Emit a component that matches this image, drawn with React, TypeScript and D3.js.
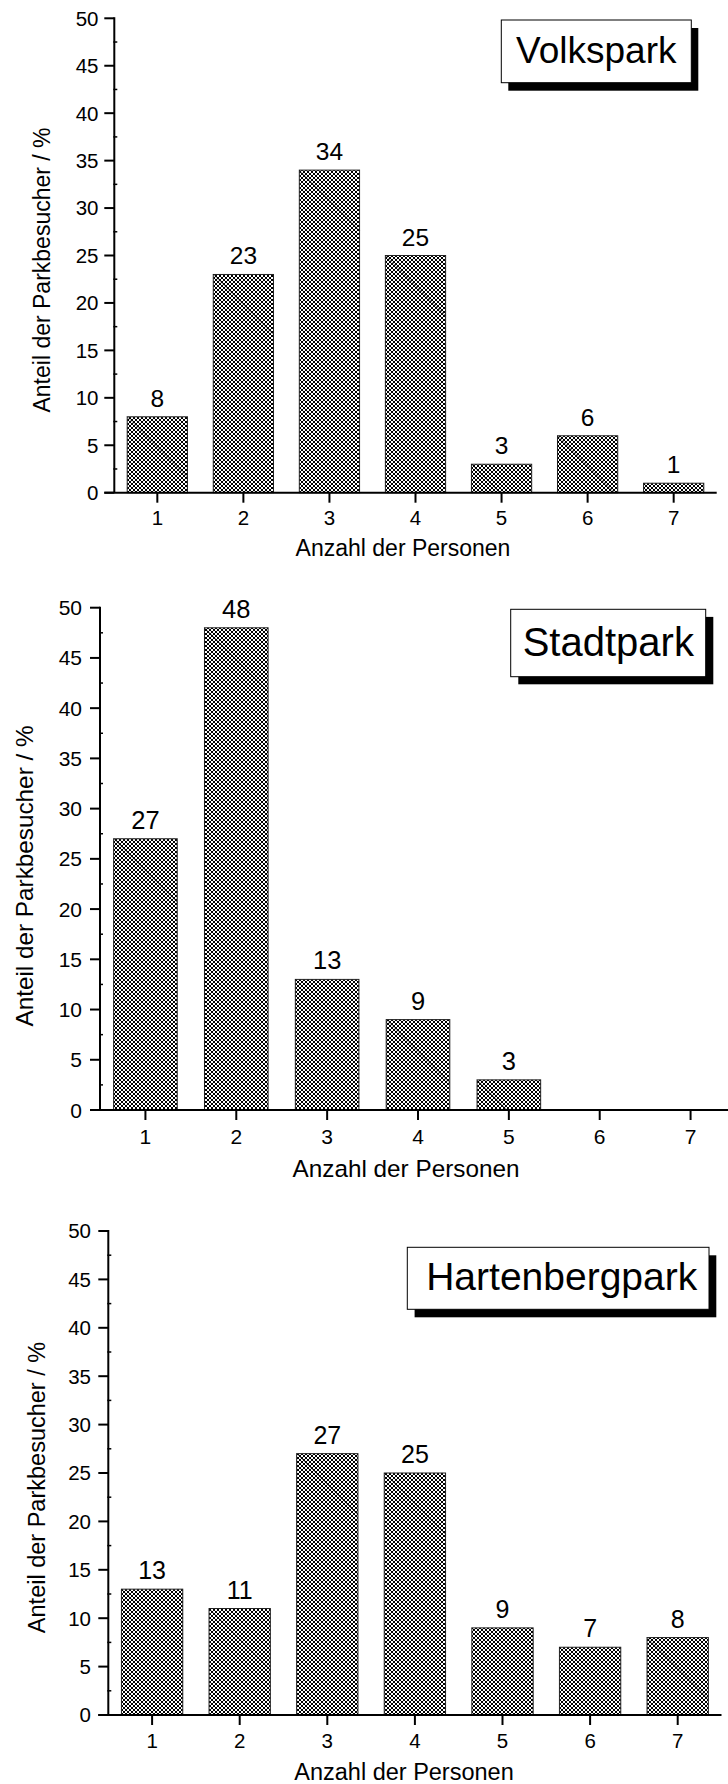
import React from "react";
import * as d3 from "d3";

// ---------- data ----------
const categories = [1, 2, 3, 4, 5, 6, 7];
const volkspark = [8, 23, 34, 25, 3, 6, 1];
const stadtpark = [27, 48, 13, 9, 3, 0, 0];
const hartenbergpark = [13, 11, 27, 25, 9, 7, 8];
const parkNames = ["Volkspark", "Stadtpark", "Hartenbergpark"];
const yTickValues = [0, 5, 10, 15, 20, 25, 30, 35, 40, 45, 50];
const yMinorValues = [2.5, 7.5, 12.5, 17.5, 22.5, 27.5, 32.5, 37.5, 42.5, 47.5];
const xAxisTitle = "Anzahl der Personen";
const yAxisTitle = "Anteil der Parkbesucher / %";

// ---------- layout (pixel geometry per panel) ----------
const layouts = [
  {
    x0: 114.3, x1: 716.7, yTop: 18.3, yBot: 492.7,
    tickFont: 20.5, valFont: 24.5, titleFont: 23, boxFont: 37,
    yTickRight: 98.5, xTickBase: 525, xTitleX: 403, xTitleBase: 556,
    yTitleX: 50, yTitleY: 270,
    box: { x: 501.3, y: 20, w: 190, h: 62.7, dx: 7, dy: 8, tx: 596.3, tb: 63.3 },
  },
  {
    x0: 100, x1: 736, yTop: 607.7, yBot: 1110,
    tickFont: 21, valFont: 25.5, titleFont: 24.3, boxFont: 40,
    yTickRight: 82, xTickBase: 1144, xTitleX: 406, xTitleBase: 1176.5,
    yTitleX: 32.5, yTitleY: 876,
    box: { x: 510.7, y: 609.3, w: 195, h: 67.4, dx: 7.6, dy: 7.6, tx: 608.3, tb: 655.5 },
  },
  {
    x0: 108.3, x1: 721.5, yTop: 1231, yBot: 1715,
    tickFont: 20.5, valFont: 25, titleFont: 23.5, boxFont: 39,
    yTickRight: 91, xTickBase: 1747.5, xTitleX: 404, xTitleBase: 1780,
    yTitleX: 44.5, yTitleY: 1487.5,
    box: { x: 407.3, y: 1247.3, w: 301.7, h: 62, dx: 7.3, dy: 8, tx: 561.7, tb: 1290 },
  },
];

const FONT = "'Liberation Sans', Arial, Helvetica, sans-serif";

function Panel({ values, name, L }: any) {
  const x = d3.scaleLinear().domain([0.5, 7.5]).range([L.x0, L.x1]);
  const y = d3.scaleLinear().domain([0, 50]).range([L.yBot, L.yTop]);
  const unit = x(2) - x(1);
  const bw = unit * 0.7;
  return (
    <g>
      {categories.map((c, i) => {
        const v = values[i];
        if (!v) return null;
        const bx = x(c) - bw / 2;
        const by = y(v);
        const h = y(0) - by;
        const m = Math.min(bw, h);
        return (
          <g key={c}>
            <rect x={bx} y={by} width={bw} height={h} fill="url(#xhatch)" stroke="#222" strokeWidth={1} />
            <line x1={bx} y1={by} x2={bx + m} y2={by + m} stroke="#000" strokeWidth={0.45} />
            <text x={x(c)} y={by - 10} textAnchor="middle" fontSize={L.valFont} fontFamily={FONT} fill="#000">
              {v}
            </text>
          </g>
        );
      })}
      <line x1={L.x0} x2={L.x0} y1={y(50) - 1} y2={y(0)} stroke="#000" strokeWidth={2} />
      {yTickValues.map((t) => (
        <g key={t}>
          <line x1={L.x0 - 10} x2={L.x0} y1={y(t)} y2={y(t)} stroke="#000" strokeWidth={2} />
          <text x={L.yTickRight} y={y(t)} dy="0.36em" textAnchor="end" fontSize={L.tickFont} fontFamily={FONT} fill="#000">
            {t}
          </text>
        </g>
      ))}
      {yMinorValues.map((t) => (
        <line key={t} x1={L.x0 - 1} x2={L.x0 + 3} y1={y(t)} y2={y(t)} stroke="#000" strokeWidth={1.5} />
      ))}
      <line x1={L.x0 - 10} x2={L.x1} y1={y(0)} y2={y(0)} stroke="#000" strokeWidth={2} />
      {categories.map((c) => (
        <g key={c}>
          <line x1={x(c)} x2={x(c)} y1={y(0)} y2={y(0) + 10} stroke="#000" strokeWidth={2} />
          <text x={x(c)} y={L.xTickBase} textAnchor="middle" fontSize={L.tickFont} fontFamily={FONT} fill="#000">
            {c}
          </text>
        </g>
      ))}
      <text x={L.xTitleX} y={L.xTitleBase} textAnchor="middle" fontSize={L.titleFont} fontFamily={FONT} fill="#000">
        {xAxisTitle}
      </text>
      <text
        x={L.yTitleX}
        y={L.yTitleY}
        transform={`rotate(-90, ${L.yTitleX}, ${L.yTitleY})`}
        textAnchor="middle"
        fontSize={L.titleFont}
        fontFamily={FONT}
        fill="#000"
      >
        {yAxisTitle}
      </text>
      <rect x={L.box.x + L.box.dx} y={L.box.y + L.box.dy} width={L.box.w} height={L.box.h} fill="#000" />
      <rect x={L.box.x} y={L.box.y} width={L.box.w} height={L.box.h} fill="#fff" stroke="#000" strokeWidth={1} />
      <text x={L.box.tx} y={L.box.tb} textAnchor="middle" fontSize={L.boxFont} fontFamily={FONT} fill="#000">
        {name}
      </text>
    </g>
  );
}

export default function App() {
  const series = [volkspark, stadtpark, hartenbergpark];
  return (
    <svg
      width={728}
      height={1784}
      viewBox="0 0 728 1784"
      style={{ position: "absolute", left: 0, top: 0, display: "block", background: "#fff" }}
    >
      <defs>
        <pattern id="xhatch" patternUnits="userSpaceOnUse" width={4} height={4}>
          <rect width={4} height={4} fill="#fff" />
          <path
            d="M-1,3 L1,5 M0,0 L4,4 M3,-1 L5,1 M0,4 L4,0 M-1,1 L1,-1 M3,5 L5,3"
            stroke="#000"
            strokeWidth={1}
          />
        </pattern>
      </defs>
      <rect width={728} height={1784} fill="#fff" />
      {series.map((vals, i) => (
        <Panel key={i} values={vals} name={parkNames[i]} L={layouts[i]} />
      ))}
    </svg>
  );
}
